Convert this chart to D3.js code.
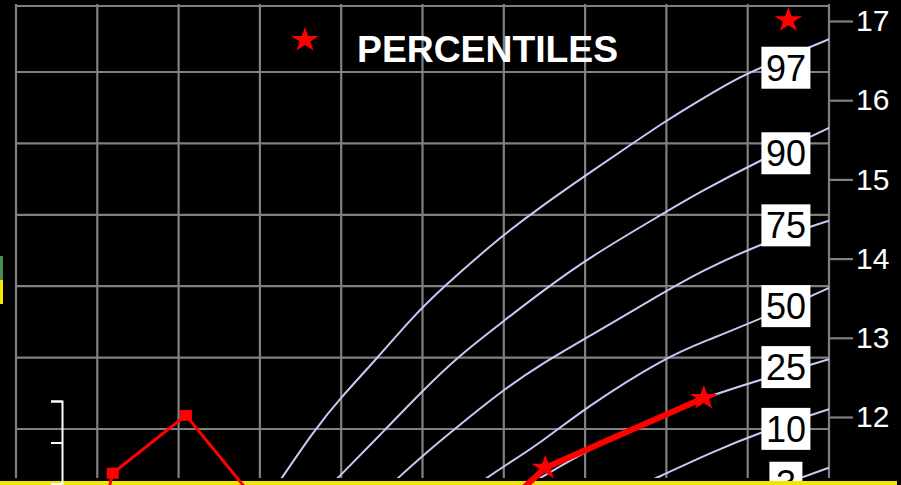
<!DOCTYPE html>
<html><head><meta charset="utf-8">
<script src="https://cdn.jsdelivr.net/npm/d3@7"></script>
<style>html,body{margin:0;padding:0;background:#000;overflow:hidden}svg{display:block}</style>
</head><body>
<svg id="c" width="901" height="485"></svg>
<script>
// ---- data ----
const ageTicks = [0,1,2,3,4,5,6,7,8,9,10];      // vertical grid lines
const gridRows = [0,1,2,3,4,5];                 // rows of the (cut-off) left axis
const rightTicks = [12,13,14,15,16,17];         // right axis values
const percentiles = ["97","90","75","50","25","10","3"];
const p97 = [[3.17,11.08],[3.68,11.85],[3.99,12.24],[4.45,12.75],[4.85,13.23],[5.24,13.63],[5.99,14.30],[6.45,14.65],[7.02,15.06],[7.55,15.43],[7.98,15.73],[8.41,16.00],[8.84,16.26],[9.15,16.41],[10,16.77]];
const p90 = [[3.81,11.08],[3.96,11.23],[4.54,11.84],[5.01,12.34],[5.42,12.75],[6.02,13.23],[6.45,13.57],[7.04,14.01],[7.98,14.58],[8.41,14.84],[9.15,15.24],[10,15.65]];
const p75 = [[4.54,11.08],[4.70,11.23],[5.01,11.52],[5.42,11.87],[5.99,12.34],[6.45,12.66],[7.02,13.00],[7.98,13.58],[8.41,13.83],[9.18,14.20],[10,14.48]];
const p50 = [[5.58,11.08],[5.79,11.23],[5.99,11.37],[6.45,11.67],[7.02,12.13],[7.98,12.75],[8.48,12.96],[9.19,13.25],[10,13.63]];
const p25 = [[6.20,11.08],[6.45,11.23],[7.02,11.58],[7.98,12.04],[8.48,12.25],[9.19,12.48],[10,12.73]];
const p10 = [[7.55,11.08],[7.88,11.23],[8.54,11.55],[9.19,11.82],[10,12.10]];
const p3  = [[9.23,11.08],[9.68,11.24],[10,11.36]];
const curves = [p97,p90,p75,p50,p25,p10,p3];
const labelAge = 9.47;
const labelAt = [16.41,15.33,14.42,13.40,12.63,11.85,11.17];
const squareSeries = [[1.12,11.00],[1.19,11.29],[2.09,12.02],[3.00,10.88]];
const starSeries = [[6.02,10.89],[6.51,11.36],[8.46,12.24]];
const loneStar = [[9.50,17.01]];
const bracketTicks = [0,1,2];
const title = "PERCENTILES";

// ---- layout ----
const svg = d3.select("#c");
const W = 901, H = 485;
const plotTop = 6, plotBottom = 478;
const x = d3.scaleLinear().domain([0,10]).range([16,829]);
const y = d3.scaleLinear().domain([12,17]).range([417,21]);
const yLeft = d3.scaleLinear().domain([0,5]).range([429,72]);
const GRID = "#808080", CURVE = "#c8c8f4", RED = "#ff0000";
const FONT = "'Liberation Sans', Arial, Helvetica, sans-serif";

svg.append("rect").attr("width",W).attr("height",H).attr("fill","#000");

svg.append("defs").append("clipPath").attr("id","plot")
  .append("rect").attr("x",x(0)).attr("y",plotTop).attr("width",x(10)-x(0)).attr("height",plotBottom-plotTop);

// grid
const g = svg.append("g").attr("stroke",GRID).attr("stroke-width",2.2);
g.selectAll("line.v").data(ageTicks).join("line").attr("class","v")
  .attr("x1",d=>x(d)).attr("x2",d=>x(d)).attr("y1",plotTop-2).attr("y2",plotBottom);
g.selectAll("line.h").data(gridRows).join("line").attr("class","h")
  .attr("x1",x(0)).attr("x2",x(10)).attr("y1",d=>yLeft(d)).attr("y2",d=>yLeft(d));
g.append("line").attr("x1",x(0)).attr("x2",x(10)).attr("y1",plotTop).attr("y2",plotTop);

// right axis
const ax = svg.append("g").attr("transform",`translate(${x(10)},0)`)
  .call(d3.axisRight(y).tickValues(rightTicks).tickSize(24).tickPadding(3).tickFormat(d3.format("d")));
ax.select(".domain").remove();
ax.selectAll(".tick line").attr("stroke",GRID).attr("stroke-width",2.2);
ax.selectAll(".tick text").attr("fill","#fff").attr("font-size",30).attr("font-family",FONT);

// percentile curves
const line = d3.line().x(d=>x(d[0])).y(d=>y(d[1])).curve(d3.curveBasis);
svg.append("g").attr("clip-path","url(#plot)")
  .selectAll("path").data(curves).join("path")
  .attr("d",line).attr("fill","none").attr("stroke",CURVE).attr("stroke-width",2);

// percentile labels
const lg = svg.append("g").attr("font-family",FONT).attr("font-size",36);
percentiles.forEach((p,i)=>{
  const cx = x(labelAge), cy = y(labelAt[i]);
  const w = p.length===1 ? 33 : 49;
  lg.append("rect").attr("x",cx-w/2).attr("y",cy-21).attr("width",w).attr("height",42).attr("fill","#fff");
  lg.append("text").attr("x",cx).attr("y",cy).attr("dy","0.36em").attr("text-anchor","middle").attr("fill","#000").text(p);
});

// title + legend star
const star = d3.symbol(d3.symbolStar, 190);
svg.append("text").attr("x",357).attr("y",62).attr("fill","#fff").attr("font-family",FONT)
  .attr("font-weight","bold").attr("font-size",37.3).text(title);
svg.append("path").attr("d",star()).attr("fill",RED).attr("transform","translate(305,40) scale(1.12,1)");

// bottom yellow bar
svg.append("rect").attr("x",0).attr("y",481).attr("width",897).attr("height",10).attr("fill","#f2e600");

// red series with squares
const lineL = d3.line().x(d=>x(d[0])).y(d=>y(d[1]));
svg.append("path").attr("d",lineL(squareSeries)).attr("fill","none").attr("stroke",RED).attr("stroke-width",3);
svg.selectAll("rect.sq").data(squareSeries).join("rect").attr("class","sq")
  .attr("x",d=>x(d[0])-6).attr("y",d=>y(d[1])-5.5).attr("width",12).attr("height",11).attr("fill",RED);

// red series with stars
svg.append("path").attr("d",lineL(starSeries)).attr("fill","none").attr("stroke",RED).attr("stroke-width",6);
svg.selectAll("path.st").data(starSeries.concat(loneStar)).join("path").attr("class","st")
  .attr("d",star()).attr("fill",RED)
  .attr("transform",d=>`translate(${x(d[0])},${y(d[1])}) scale(1.12,1)`);

// white bracket at lower left
const bScale = d3.scaleLinear().domain([0,2]).range([484,401]);
const br = svg.append("g").attr("transform","translate(62,0)")
  .call(d3.axisLeft(bScale).tickValues(bracketTicks).tickSize(11).tickFormat(""));
br.selectAll("path,line").attr("stroke","#fff").attr("stroke-width",2);

// small colour marks at left edge
svg.append("rect").attr("x",0).attr("y",256).attr("width",3).attr("height",24).attr("fill","#4c8f4c");
svg.append("rect").attr("x",0).attr("y",280).attr("width",3).attr("height",24).attr("fill","#f2e600");
</script>
</body></html>
